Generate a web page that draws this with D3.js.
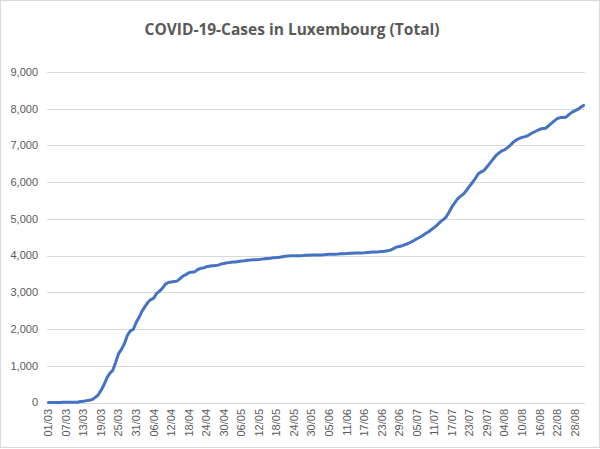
<!DOCTYPE html>
<html>
<head>
<meta charset="utf-8">
<script src="https://cdn.jsdelivr.net/npm/d3@7"></script>
<style>
  html, body { margin: 0; padding: 0; background: #fff; }
  #chart svg { display: block; }
</style>
</head>
<body>
<div id="chart"></div>
<script>
// daily totals, 01/03/2020 .. 31/08/2020
var startDay = "2020-03-01";
var march = [1, 1, 1, 2, 3, 4, 5, 5, 5, 7, 7, 26, 34, 51, 59, 81, 140, 203, 335, 484,
    670, 798, 875, 1099, 1333, 1453, 1605, 1831, 1950, 1988, 2178];
var april = [2319, 2487, 2612, 2729, 2804, 2843, 2970, 3034, 3115, 3223, 3270, 3281, 3292, 3307, 3373,
    3444, 3480, 3537, 3550, 3558, 3618, 3654, 3665, 3695, 3711, 3723, 3729, 3741, 3769, 3784];
var may = [3802, 3812, 3824, 3828, 3840, 3851, 3859, 3871, 3877, 3886, 3888, 3894, 3904, 3915, 3923, 3930,
    3945, 3947, 3958, 3971, 3980, 3990, 3993, 3995, 3997, 3999, 4002, 4008, 4012, 4016, 4018];
var june = [4019, 4020, 4024, 4032, 4035, 4039, 4040, 4043, 4048, 4052, 4055, 4063, 4065, 4068, 4070,
    4072, 4075, 4085, 4090, 4096, 4100, 4104, 4113, 4120, 4133, 4150, 4190, 4230, 4250, 4270];
var july = [4300, 4330, 4370, 4410, 4460, 4500, 4550, 4600, 4650, 4710, 4770, 4840, 4920, 4980, 5050, 5180,
    5330, 5440, 5550, 5620, 5680, 5780, 5890, 5990, 6100, 6230, 6280, 6320, 6420, 6520, 6620];
var august = [6720, 6790, 6850, 6880, 6940, 7010, 7090, 7150, 7190, 7220, 7240, 7270, 7320, 7360, 7400, 7440,
    7460, 7470, 7530, 7600, 7670, 7730, 7760, 7760, 7770, 7840, 7900, 7940, 7980, 8040, 8090];
var yTicks = [0, 1000, 2000, 3000, 4000, 5000, 6000, 7000, 8000, 9000];
var tickEvery = 6;

var width = 600, height = 449;
var margin = {top: 72, right: 15, bottom: 46, left: 47};

var cases = [].concat(march, april, may, june, july, august);
var parseDay = d3.timeParse("%Y-%m-%d");
var formatDay = d3.timeFormat("%d/%m");
var days = cases.map((v, i) => d3.timeDay.offset(parseDay(startDay), i));
var data = days.map((d, i) => ({label: formatDay(d), value: cases[i]}));

var svg = d3.select("#chart").append("svg")
    .attr("width", width)
    .attr("height", height);

svg.append("rect")
    .attr("x", 0.5).attr("y", 0.5)
    .attr("width", width - 1).attr("height", height - 2)
    .attr("fill", "#fff")
    .attr("stroke", "#d9d9d9");

var x = d3.scaleBand()
    .domain(data.map(d => d.label))
    .range([margin.left, width - margin.right]);

var y = d3.scaleLinear()
    .domain([0, 9000])
    .range([height - margin.bottom - 0.5, margin.top]);

// gridlines
svg.append("g")
  .selectAll("line")
  .data(yTicks)
  .join("line")
    .attr("x1", margin.left)
    .attr("x2", width - margin.right)
    .attr("y1", d => Math.round(y(d)) + 0.5)
    .attr("y2", d => Math.round(y(d)) + 0.5)
    .attr("stroke", "#d9d9d9")
    .attr("stroke-width", 1);

// y labels
svg.append("g")
    .style("font", "11px 'Liberation Sans', Arial, sans-serif")
    .attr("fill", "#595959")
    .attr("text-anchor", "end")
  .selectAll("text")
  .data(yTicks)
  .join("text")
    .attr("x", margin.left - 9)
    .attr("y", d => y(d))
    .attr("dy", "0.35em")
    .text(d3.format(","));

// x labels, one every 6 days
var shown = data.filter((d, i) => i % tickEvery === 0);
svg.append("g")
    .style("font", "11px 'Liberation Sans', Arial, sans-serif")
    .attr("fill", "#595959")
    .attr("text-anchor", "end")
  .selectAll("text")
  .data(shown)
  .join("text")
    .attr("transform", d => `translate(${x(d.label) + x.bandwidth() / 2},${height - margin.bottom + 6}) rotate(-90)`)
    .attr("dy", "0.35em")
    .text(d => d.label);

var line = d3.line()
    .x(d => x(d.label) + x.bandwidth() / 2)
    .y(d => y(d.value));

svg.append("path")
    .datum(data)
    .attr("fill", "none")
    .attr("stroke", "#4472c4")
    .attr("stroke-width", 3)
    .attr("stroke-linejoin", "round")
    .attr("stroke-linecap", "round")
    .attr("d", line);

svg.append("text")
    .attr("x", width / 2 - 8)
    .attr("y", 35)
    .attr("text-anchor", "middle")
    .style("font", "bold 15.5px 'Open Sans', sans-serif")
    .attr("fill", "#595959")
    .text("COVID-19-Cases in Luxembourg (Total)");
</script>
</body>
</html>
